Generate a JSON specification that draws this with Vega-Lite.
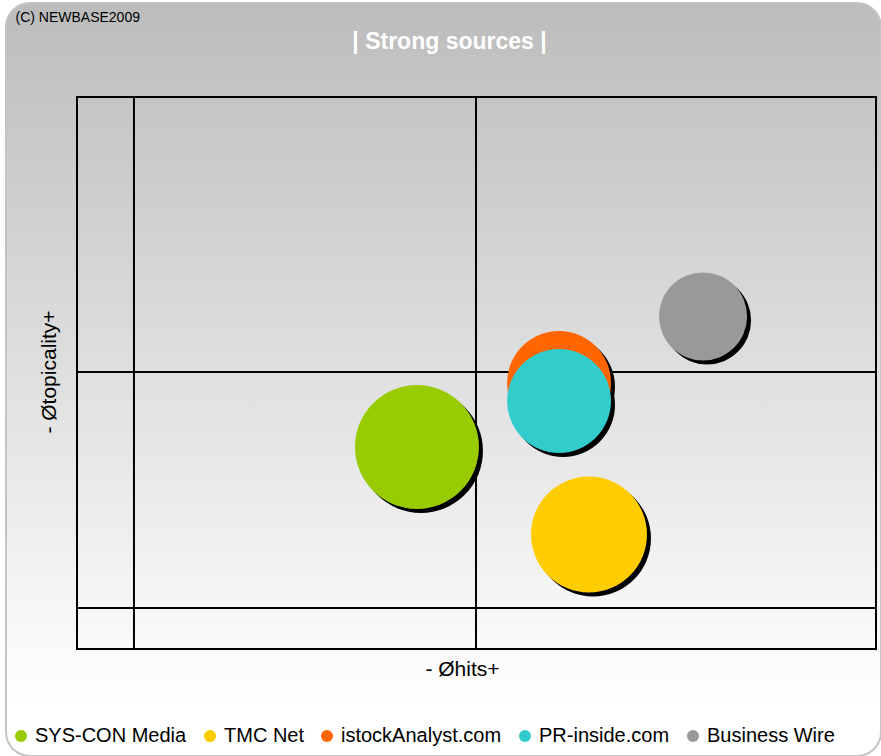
{
  "$schema": "https://vega.github.io/schema/vega-lite/v6.json",
  "width": 875,
  "height": 753,
  "autosize": {"type": "none"},
  "padding": {"left": 6, "top": 3, "right": 0, "bottom": 0},
  "background": "#ffffff",
  "view": {
    "fill": {"gradient": "linear", "x1": 0, "y1": 0, "x2": 0, "y2": 1,
      "stops": [{"offset": 0, "color": "#bcbcbc"}, {"offset": 0.93, "color": "#ffffff"}, {"offset": 1, "color": "#ffffff"}]},
    "stroke": "#c4c4c4",
    "strokeWidth": 2,
    "cornerRadius": 24
  },
  "title": {
    "text": "| Strong sources |",
    "color": "#ffffff",
    "fontSize": 23,
    "fontWeight": "bold",
    "font": "Liberation Sans",
    "anchor": "middle",
    "frame": "group",
    "offset": -45,
    "baseline": "alphabetic",
    "dx": 6,
    "dy": 24
  },
  "datasets": {
    "sources": [
      {"source": "SYS-CON Media", "hits": 42.55, "topicality": 36.59, "weight": 38.4},
      {"source": "TMC Net", "hits": 64.08, "topicality": 20.74, "weight": 33.6},
      {"source": "istockAnalyst.com", "hits": 60.33, "topicality": 48.19, "weight": 27.0},
      {"source": "PR-inside.com", "hits": 60.33, "topicality": 44.93, "weight": 27.0},
      {"source": "Business Wire", "hits": 78.35, "topicality": 60.24, "weight": 19.4}
    ],
    "frame": [{"left": 0, "right": 100, "bottom": 0, "top": 100}],
    "vlines": [{"hits": 7.13}, {"hits": 49.94}],
    "hlines": [{"topicality": 50.18}, {"topicality": 7.43}],
    "ytitle": [{"label": "- Øtopicality+"}]
  },
  "layer": [
    {
      "data": {"name": "frame"},
      "mark": {"type": "rect", "filled": false, "stroke": "#000000", "strokeWidth": 2},
      "encoding": {
        "x": {"field": "left", "type": "quantitative",
          "scale": {"domain": [-8.886, 100.626], "nice": false, "zero": false},
          "axis": {"orient": "top", "title": "(C) NEWBASE2009", "titleX": 9, "titleY": 18,
            "titleAlign": "left", "titleBaseline": "alphabetic", "titleFontSize": 14,
            "titleFontWeight": "normal", "titleColor": "#000000"}},
        "x2": {"field": "right"},
        "y": {"field": "bottom", "type": "quantitative",
          "scale": {"domain": [-19.384, 117.029], "nice": false, "zero": false},
          "axis": null},
        "y2": {"field": "top"}
      }
    },
    {
      "data": {"name": "vlines"},
      "mark": {"type": "rule", "stroke": "#000000", "strokeWidth": 2},
      "encoding": {
        "x": {"field": "hits", "type": "quantitative", "axis": null},
        "y": {"datum": 0, "type": "quantitative", "axis": null},
        "y2": {"datum": 100}
      }
    },
    {
      "data": {"name": "hlines"},
      "mark": {"type": "rule", "stroke": "#000000", "strokeWidth": 2},
      "encoding": {
        "y": {"field": "topicality", "type": "quantitative", "axis": null},
        "x": {"datum": 0, "type": "quantitative", "axis": null},
        "x2": {"datum": 100}
      }
    },
    {
      "data": {"name": "ytitle"},
      "mark": {"type": "text", "angle": 270, "align": "center", "baseline": "alphabetic",
        "fontSize": 21, "font": "Liberation Sans", "color": "#000000"},
      "encoding": {
        "text": {"field": "label", "type": "nominal"},
        "x": {"datum": -2.63, "type": "quantitative", "axis": null},
        "y": {"datum": 50.18, "type": "quantitative", "axis": null}
      }
    },
    {
      "data": {"name": "sources"},
      "mark": {"type": "circle", "color": "#000000", "opacity": 1, "xOffset": 4, "yOffset": 4},
      "encoding": {
        "x": {"field": "hits", "type": "quantitative", "axis": null},
        "y": {"field": "topicality", "type": "quantitative", "axis": null},
        "size": {"field": "weight", "type": "quantitative",
          "scale": {"type": "linear", "domain": [0, 100], "range": [0, 40000], "zero": true}, "legend": null}
      }
    },
    {
      "data": {"name": "sources"},
      "mark": {"type": "circle", "opacity": 1},
      "encoding": {
        "x": {"field": "hits", "type": "quantitative",
          "axis": {"orient": "bottom", "title": "- Øhits+", "titleX": 456, "titleY": -81,
            "titleAlign": "center", "titleBaseline": "alphabetic"}},
        "y": {"field": "topicality", "type": "quantitative", "axis": null},
        "size": {"field": "weight", "type": "quantitative",
          "scale": {"type": "linear", "domain": [0, 100], "range": [0, 40000], "zero": true}, "legend": null},
        "color": {"field": "source", "type": "nominal",
          "scale": {"domain": ["SYS-CON Media", "TMC Net", "istockAnalyst.com", "PR-inside.com", "Business Wire"],
            "range": ["#99cc00", "#ffcc00", "#ff6600", "#33cccc", "#999999"]},
          "legend": {"orient": "none", "legendX": 5, "legendY": 723, "direction": "horizontal", "columns": 5,
            "title": null, "symbolType": "circle", "symbolSize": 144, "labelFontSize": 20,
            "labelFont": "Liberation Sans", "labelColor": "#000000", "labelOffset": 4, "columnPadding": 13,
            "padding": 0, "symbolStrokeWidth": 0, "symbolOpacity": 1}}
      }
    }
  ],
  "config": {
    "font": "Liberation Sans",
    "axis": {"domain": false, "ticks": false, "labels": false, "grid": false,
      "titleFont": "Liberation Sans", "titleFontSize": 21, "titleFontWeight": "normal", "titleColor": "#000000"},
    "legend": {"labelLimit": 400}
  }
}
